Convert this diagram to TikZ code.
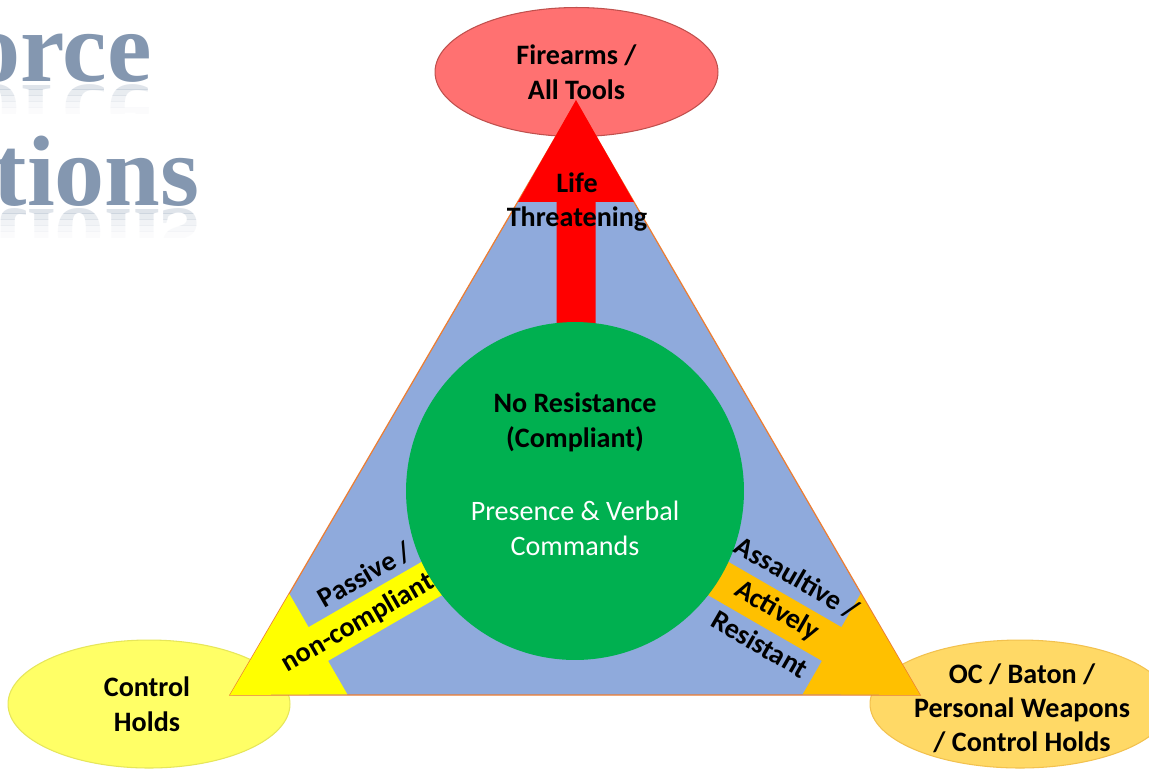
\documentclass[tikz,border=0pt]{standalone}
\usepackage{fontspec}
\setmainfont{Carlito}
\newfontfamily\titlefont{Liberation Serif}
\usetikzlibrary{shapes.geometric}
\definecolor{triblue}{HTML}{8FAADC}
\definecolor{triedge}{HTML}{ED7D31}
\definecolor{coregreen}{HTML}{00B050}
\definecolor{arrred}{HTML}{FF0000}
\definecolor{arryellow}{HTML}{FFFF00}
\definecolor{arrorange}{HTML}{FFC000}
\definecolor{ellred}{HTML}{FF7171}
\definecolor{ellredline}{HTML}{C0504D}
\definecolor{ellyellow}{HTML}{FFFF66}
\definecolor{ellyellowline}{HTML}{E6E65A}
\definecolor{ellorange}{HTML}{FFD966}
\definecolor{ellorangeline}{HTML}{F2C14E}
\definecolor{titlecol}{HTML}{8497B0}
\newcommand\myarrowpath[1]{(0,0) -- (-2.04cm,1.16cm) -- (-2.04cm,0.39cm) -- (-#1,0.39cm) -- (-#1,-0.39cm) -- (-2.04cm,-0.39cm) -- (-2.04cm,-1.16cm) -- cycle}
\begin{document}
\begin{tikzpicture}[x=0.02cm,y=-0.02cm,
  lbl/.style={font=\fontsize{16}{19.9}\selectfont\bfseries, text=black, align=center, inner sep=0pt},
  wlbl/.style={font=\fontsize{16}{19.9}\selectfont, text=white, align=center, inner sep=0pt},
  ttl/.style={font=\titlefont\bfseries\fontsize{57}{60}\selectfont, text=titlecol, inner sep=0pt, anchor=base east},
  ell/.style={ellipse, inner sep=0pt, line width=0.6pt},
]
\clip (0,0) rectangle (1149,769);
\fill[white] (0,0) rectangle (1149,769);

% title fragments with reflection
\node[ttl] (t1) at (152,81) {Force};
\node[ttl] (t2) at (200,205) {Options};
\foreach \a/\b/\o in {0/6/0.26, 6/12/0.18, 12/18/0.11, 18/24/0.06, 24/30/0.03}{
  \begin{scope}
    \clip (0,83+\a) rectangle (300,83+\b);
    \node[ttl, yscale=-1, opacity=\o] at (152,85) {Force};
  \end{scope}
  \begin{scope}
    \clip (0,207+\a) rectangle (300,207+\b);
    \node[ttl, yscale=-1, opacity=\o] at (200,209) {Options};
  \end{scope}
}

% ellipses
\node[ell, fill=ellred, draw=ellredline, minimum width=5.66cm, minimum height=2.58cm] (fire) at (576.5,72) {};
\node[ell, fill=ellyellow, draw=ellyellowline, minimum width=5.64cm, minimum height=2.56cm] (ctrl) at (149,704) {};
\node[ell, fill=ellorange, draw=ellorangeline, minimum width=6.0cm, minimum height=2.56cm] (oc) at (1020,704) {};

% triangle
\coordinate (tA) at (576,102);
\coordinate (tB) at (230,695);
\coordinate (tC) at (920,695);
\filldraw[fill=triblue, draw=triedge, line width=0.7pt] (tA) -- (tB) -- (tC) -- cycle;

% arrows
\fill[arrred, shift={(576,100)}, rotate=90] \myarrowpath{7.82cm};
\fill[arryellow, shift={(tB)}, rotate=210] \myarrowpath{7.6cm};
\fill[arrorange, shift={(tC)}, rotate=-30] \myarrowpath{7.6cm};

% central circle
\node[circle, fill=coregreen, minimum size=6.76cm, inner sep=0pt] (core) at (575,491) {};

% texts
\node[lbl] (firet) at (fire.center) {Firearms /\\All Tools};
\node[lbl] (ctrlt) at (147,704) {Control\\Holds};
\node[lbl, font=\fontsize{16}{19.4}\selectfont\bfseries] (oct) at (1022,708) {OC / Baton /\\Personal Weapons\\/ Control Holds};
\node[lbl] (life) at (577,202) {Life\\Threatening};
\node[lbl] (nores) at (575,422.5) {No Resistance\\(Compliant)};
\node[wlbl] (pres) at (575,528.5) {Presence \& Verbal\\Commands};
\node[lbl, rotate=30] (pass) at (365,575) {Passive /};
\node[lbl, rotate=30] (nonc) at (358,623) {non-compliant};
\node[lbl, rotate=-30] (assl) at (797,578) {Assaultive /};
\node[lbl, rotate=-30] (actv) at (777,611) {Actively};
\node[lbl, rotate=-30] (resi) at (760,644) {Resistant};
\end{tikzpicture}
\end{document}
